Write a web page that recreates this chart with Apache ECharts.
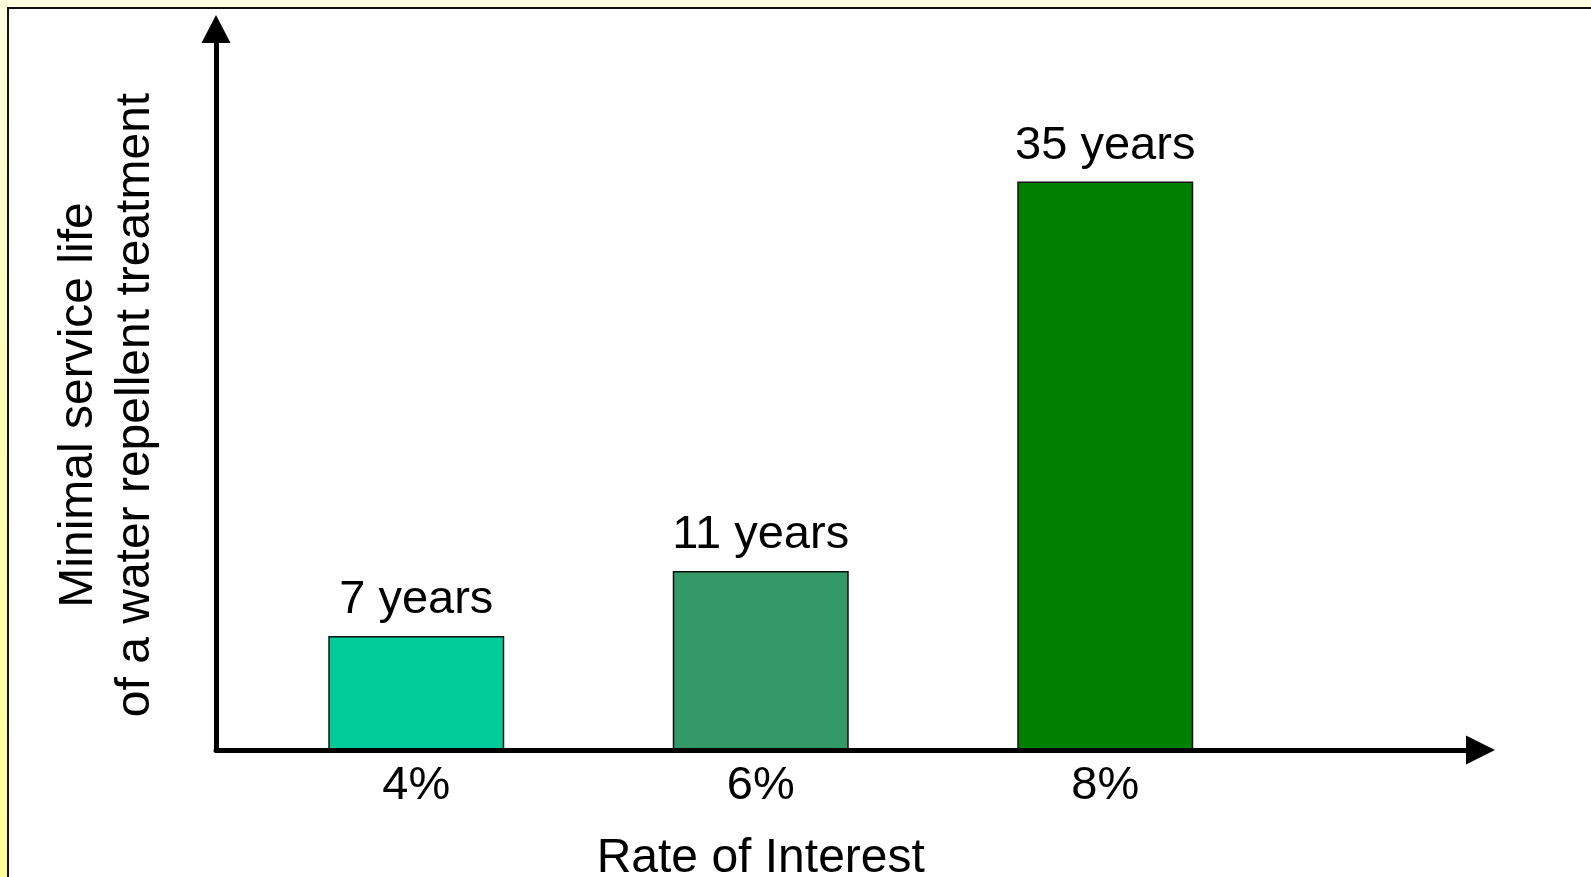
<!DOCTYPE html>
<html>
<head>
<meta charset="utf-8">
<title>Minimal service life vs rate of interest</title>
<script src="https://cdn.jsdelivr.net/npm/echarts@6/dist/echarts.min.js"></script>
<style>
  html, body { margin: 0; padding: 0; }
  body {
    width: 1591px; height: 877px; overflow: hidden; position: relative;
    background: linear-gradient(to bottom, #ffffe0 0%, #ffffb8 45%, #ffff99 100%);
  }
  #sheet {
    position: absolute; left: 7px; top: 7px; width: 1600px; height: 900px;
    background: #ffffff; border-left: 2px solid #111; border-top: 2px solid #111;
  }
  #chart { position: absolute; left: 0; top: 0; width: 1591px; height: 877px; }
</style>
</head>
<body>
<div id="sheet"></div>
<div id="chart"></div>
<script>
// Rates of interest and the minimal service life (years) for each
const rates = ['4%', '6%', '8%'];
const serviceYears = [7, 11, 35];
const barColors = ['#00cc99', '#339966', '#008000'];
const xTitle = 'Rate of Interest';
const yTitle = 'Minimal service life\nof a water repellent treatment';

const FONT = '"Liberation Sans", Arial, sans-serif';

const chart = echarts.init(document.getElementById('chart'), null, { renderer: 'canvas' });

chart.setOption({
  animation: false,
  grid: [
    // bars
    { left: 244, right: 313.5, top: 100.3, bottom: 127.5, containLabel: false, outerBoundsMode: 'none' },
    // arrowed axes
    { left: 216, right: 110.5, top: 29, bottom: 127, containLabel: false, outerBoundsMode: 'none' }
  ],
  xAxis: [
    {
      type: 'category', gridIndex: 0, data: rates,
      axisLine: { show: false }, axisTick: { show: false },
      axisLabel: { fontSize: 47, color: '#000', fontFamily: FONT, margin: 13 },
      name: xTitle, nameLocation: 'middle', nameGap: 85,
      nameTextStyle: { fontSize: 48, color: '#000', fontFamily: FONT }
    },
    {
      type: 'value', gridIndex: 1, min: 0, max: 1, z: 5,
      axisLine: { show: true, symbol: ['none', 'triangle'], symbolSize: [29, 29],
                  lineStyle: { color: '#000', width: 5 } },
      axisTick: { show: false }, axisLabel: { show: false }, splitLine: { show: false }
    }
  ],
  yAxis: [
    {
      type: 'value', gridIndex: 0, min: 0, max: 40,
      axisLine: { show: false }, axisTick: { show: false },
      axisLabel: { show: false }, splitLine: { show: false }
    },
    {
      type: 'value', gridIndex: 1, min: 0, max: 1, z: 5,
      axisLine: { show: true, onZero: false, symbol: ['none', 'triangle'], symbolSize: [29, 28],
                  lineStyle: { color: '#000', width: 5 } },
      axisTick: { show: false }, axisLabel: { show: false }, splitLine: { show: false },
      name: yTitle, nameLocation: 'middle', nameRotate: 90, nameGap: 52,
      nameTextStyle: { fontSize: 48, color: '#000', fontFamily: FONT, lineHeight: 57,
                       align: 'center', padding: [0, 31, 0, 0] }
    }
  ],
  series: [{
    type: 'bar', xAxisIndex: 0, yAxisIndex: 0,
    barWidth: 176,
    data: serviceYears.map((v, i) => ({
      value: v,
      itemStyle: { color: barColors[i], borderColor: '#111', borderWidth: 1.5 }
    })),
    label: {
      show: true, position: 'top', distance: 12,
      formatter: '{c} years',
      fontSize: 47, color: '#000', fontFamily: FONT
    }
  }]
});
</script>
</body>
</html>
